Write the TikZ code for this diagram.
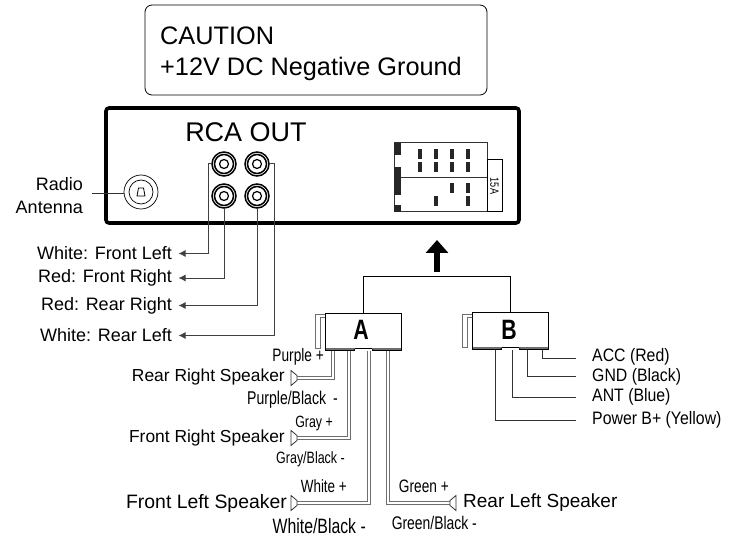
\documentclass[tikz,border=0pt]{standalone}
\usepackage{fontspec}
\setmainfont{Liberation Sans}
\newfontfamily\narrowfont[FakeStretch=0.76]{Liberation Sans}
\newfontfamily\plainnarrow[FakeStretch=0.88]{Liberation Sans}
\usetikzlibrary{arrows.meta, positioning, calc}
\definecolor{WireGray}{HTML}{6E6E6E}

\begin{document}
\begin{tikzpicture}[
    x=1pt, y=-1pt,
    side_label/.style={
        anchor=east,
        inner sep=0pt,
        font=\fontsize{18}{23}\selectfont
    },
    wire_label/.style={
        anchor=east,
        inner sep=0pt,
        font=\fontsize{#1}{18}\narrowfont
    },
    speaker_label/.style={
        anchor=east,
        inner sep=0pt,
        font=\fontsize{#1}{18}\selectfont
    },
    power_label/.style={
        anchor=west,
        inner sep=0pt,
        font=\fontsize{18}{20}\plainnarrow
    },
    jack_ring/.style={
        circle,
        draw=black,
        line width=1.5pt,
        fill=white,
        inner sep=0pt,
        minimum size=24pt
    },
    plug_box/.style={
        rectangle,
        draw=black,
        line width=1pt,
        fill=white,
        inner sep=0pt,
        minimum width=76pt,
        minimum height=37pt
    },
    plug_letter/.style={
        inner sep=0pt,
        font=\fontsize{28}{30}\narrowfont\bfseries
    },
    rca_wire/.style={
        -{Latex[length=7pt,width=7pt]},
        draw=black!75,
        line width=1pt,
        shorten >=6.5pt
    },
    speaker_wire/.style={
        draw=WireGray,
        line width=1pt,
        double=white,
        double distance=2.8pt
    },
    power_wire/.style={
        draw=black!80,
        line width=0.9pt
    },
    speaker_line/.style={
        draw=black!80,
        line width=0.8pt,
        fill=white
    },
    pin_bar/.style={
        fill=black!85
    }
]
\useasboundingbox (0,0) rectangle (733,537);

% =========================
% CAUTION BOX
% =========================
\node[
    draw=black, rounded corners=7pt, line width=0.8pt,
    minimum width=342pt, minimum height=90pt, inner sep=0pt
] (caution) at (316,50) {};
\node[
    anchor=west, align=left, inner sep=0pt,
    font=\fontsize{25.3}{31}\selectfont
] (caution_text) at (160,53.5) {CAUTION\\+12V DC Negative Ground};

% =========================
% CHASSIS
% =========================
\node[
    draw=black, line width=3.6pt, rounded corners=3pt,
    minimum width=413pt, minimum height=115pt, inner sep=0pt
] (chassis) at (312.5,165.5) {};

\node[inner sep=0pt, font=\fontsize{27}{29}\selectfont] (rca_title) at (246,132) {RCA OUT};

% Antenna socket
\node[circle, draw=black, line width=0.7pt, inner sep=0pt, minimum size=34pt] (antenna) at (141,192) {};
\node[circle, draw=black, line width=0.7pt, inner sep=0pt, minimum size=24pt] (antenna_in) at (141,192) {};
\draw[black, line width=0.8pt] (138.5,188) -- (143.5,188) -- (145,196) -- (137,196) -- cycle;

\node[side_label, align=right] (radio_label) at (83,195.5) {Radio\\Antenna};
\coordinate (radio_end) at (92,193);
\draw[power_wire] (radio_end) -- (antenna.west |- radio_end);

% RCA jacks
\foreach \name/\posx/\posy in {fl/224/164, fr/224/196, rr/257/196, rl/257/164} {
    \node[jack_ring] (jack_\name) at (\posx,\posy) {};
    \node[circle, draw=black, line width=1.5pt, inner sep=0pt, minimum size=19pt] (ring_\name) at (\posx,\posy) {};
    \node[circle, draw=black, line width=1.2pt, inner sep=0pt, minimum size=9pt] (hole_\name) at (\posx,\posy) {};
}

% =========================
% FUSE PANEL
% =========================
\node[draw=black!80, line width=1pt, inner sep=0pt, minimum width=93pt, minimum height=69pt] (panel) at (440.5,177.5) {};
\draw[black!80, line width=1pt] (panel.west) -- (panel.east);
\node[draw=black, line width=1pt, inner sep=0pt, minimum width=15pt, minimum height=52pt,
    font=\fontsize{12}{14}\narrowfont] (fuse) at (494.5,186) {\rotatebox{-90}{15A}};

% Side blocks of the panel
\fill[pin_bar] (394,143) rectangle (401,155);
\fill[pin_bar] (394,167) rectangle (401,195);
\fill[pin_bar] (394,205) rectangle (401,212);

% Pins
\foreach \posx in {420,436,452,468} {
    \fill[pin_bar] (\posx-2,149) rectangle (\posx+2,159);
    \fill[pin_bar] (\posx-2,162) rectangle (\posx+2,172);
}
\foreach \posx/\posy in {452/183, 468/183, 436/196, 468/196} {
    \fill[pin_bar] (\posx-2,\posy) rectangle (\posx+2,\posy+10);
}

% =========================
% RCA LEADS
% =========================
\node[side_label] (label_fl) at (172,253.5) {White: Front Left};
\node[side_label] (label_fr) at (172,278) {Red: Front Right};
\node[side_label] (label_rr) at (172,305.5) {Red: Rear Right};
\node[side_label] (label_rl) at (172,335.5) {White: Rear Left};

\draw[rca_wire] (jack_fl.west) -- ++(-3,0) |- (label_fl.east);
\draw[rca_wire] (jack_fr.south) |- (label_fr.east);
\draw[rca_wire] (jack_rr.south) |- (label_rr.east);
\draw[rca_wire] (jack_rl.east) -- ++(5,0) |- (label_rl.east);

% =========================
% PLUGS
% =========================
\draw[line width=6.5pt, -{Triangle[length=13pt,width=22pt]}] (437,272) -- (437,240) node[pos=0.5, inner sep=0pt] (feed_arrow) {};

% Latches
\draw[WireGray, line width=1pt] (325,314) -- (315,314) -- (315,348) -- (320,348) -- (320,317) -- (325,317);
\draw[WireGray, line width=1pt] (472,314) -- (462,314) -- (462,347) -- (467,347) -- (467,317) -- (472,317);

\node[plug_box] (plug_A) at (363,331.5) {};
\node[plug_box] (plug_B) at (510,330.5) {};
\node[plug_letter] (letter_A) at (361,330) {A};
\node[plug_letter] (letter_B) at (509,330) {B};

\draw[black, line width=1pt] (plug_A.north) |- (plug_B.north |- 0,276.5) -- (plug_B.north);

% Notched lower edge
\draw[WireGray, line width=2pt] (325.5,349) -- (354,349);
\draw[WireGray, line width=2pt] (373,349) -- (400.5,349);
\draw[WireGray, line width=2pt] (472.5,348) -- (501,348);
\draw[WireGray, line width=2pt] (520,348) -- (547.5,348);
\draw[white, line width=2.4pt] (355,350) -- (372,350);
\draw[white, line width=2.4pt] (502,349) -- (519,349);
\draw[black, line width=0.8pt] (354,350) -- (355,348.5) -- (372,348.5) -- (373,350);
\draw[black, line width=0.8pt] (501,349) -- (502,347.5) -- (519,347.5) -- (520,349);

% =========================
% SPEAKER WIRES
% =========================
\coordinate (spk_rr) at (297,378);
\coordinate (spk_fr) at (297,438);
\coordinate (spk_fl) at (297,503);
\coordinate (spk_rl) at (450,503);

\draw[speaker_wire] (plug_A.south -| 333,0) |- (spk_rr);
\draw[speaker_wire] (plug_A.south -| 349,0) |- (spk_fr);
\draw[speaker_wire] (plug_A.south -| 369,0) |- (spk_fl);
\draw[speaker_wire] (plug_A.south -| 388,0) |- (spk_rl);

% Speaker symbols
\foreach \name in {rr,fr,fl} {
    \draw[speaker_line] (spk_\name) ++(0,-2.5) -- ++(-6,-5) -- ++(0,15) -- ++(6,-5) -- cycle;
}
\draw[speaker_line] (spk_rl) ++(0,-2.5) -- ++(6,-5) -- ++(0,15) -- ++(-6,-5) -- cycle;

\node[speaker_label=17.4] (name_rr) at (285,377.5) {Rear Right Speaker};
\node[speaker_label=17.4] (name_fr) at (285,438) {Front Right Speaker};
\node[speaker_label=19.4] (name_fl) at (287,503) {Front Left Speaker};
\node[speaker_label=19, anchor=west] (name_rl) at (463,503) {Rear Left Speaker};

\node[wire_label=18] (tag_purple) at (324,357) {Purple +};
\node[wire_label=18.5] (tag_purple_b) at (338,399.5) {Purple/Black \,-};
\node[wire_label=16.3] (tag_gray) at (333,423) {Gray +};
\node[wire_label=16.4] (tag_gray_b) at (345,459) {Gray/Black -};
\node[wire_label=17.7] (tag_white) at (347,486) {White +};
\node[wire_label=20.8] (tag_white_b) at (366,526) {White/Black -};
\node[wire_label=18] (tag_green) at (449,486) {Green +};
\node[wire_label=18.3] (tag_green_b) at (477,523) {Green/Black -};

% =========================
% POWER WIRES
% =========================
\node[power_label] (acc_label) at (592,357) {ACC (Red)};
\node[power_label] (gnd_label) at (592,377) {GND (Black)};
\node[power_label] (ant_label) at (592,397) {ANT (Blue)};
\node[power_label] (pwr_label) at (592,420) {Power B+ (Yellow)};

\draw[power_wire, shorten >=16pt] (plug_B.south -| 542,0) |- (acc_label.west |- 0,358);
\draw[power_wire, shorten >=16pt] (plug_B.south -| 527,0) |- (gnd_label.west |- 0,376);
\draw[power_wire, shorten >=16pt] (plug_B.south -| 512,0) |- (ant_label.west |- 0,397);
\draw[power_wire, shorten >=16pt] (plug_B.south -| 495,0) |- (pwr_label.west |- 0,420);

\end{tikzpicture}
\end{document}
